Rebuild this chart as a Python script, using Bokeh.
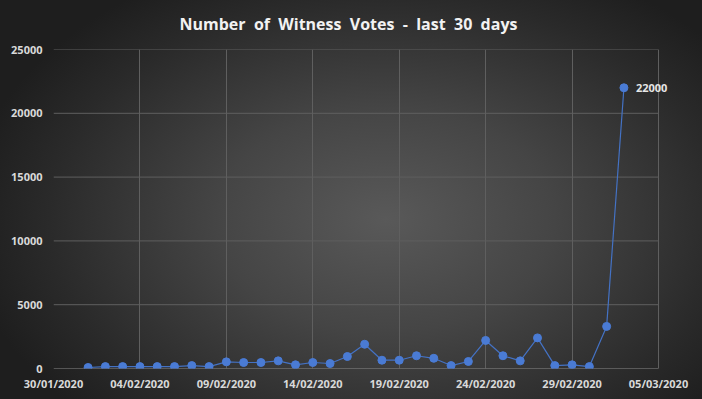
from datetime import datetime, timedelta
from bokeh.plotting import figure
from bokeh.models import (ColumnDataSource, Range1d, FixedTicker, DatetimeTickFormatter,
                          GlobalInlineStyleSheet, Label)
from bokeh.embed import file_html
from bokeh.resources import INLINE

dates = ["2020-02-01", "2020-02-02", "2020-02-03", "2020-02-04", "2020-02-05", "2020-02-06",
         "2020-02-07", "2020-02-08", "2020-02-09", "2020-02-10", "2020-02-11", "2020-02-12",
         "2020-02-13", "2020-02-14", "2020-02-15", "2020-02-16", "2020-02-17", "2020-02-18",
         "2020-02-19", "2020-02-20", "2020-02-21", "2020-02-22", "2020-02-23", "2020-02-24",
         "2020-02-25", "2020-02-26", "2020-02-27", "2020-02-28", "2020-02-29", "2020-03-01",
         "2020-03-02", "2020-03-03"]
votes = [80, 150, 150, 150, 150, 150, 230, 150, 520, 470, 470, 600, 290, 470, 390, 940,
         1900, 650, 650, 1000, 800, 230, 550, 2200, 1000, 600, 2400, 230, 290, 150, 3300, 22000]
tick_dates = ["2020-01-30", "2020-02-04", "2020-02-09", "2020-02-14", "2020-02-19",
              "2020-02-24", "2020-02-29", "2020-03-05"]
y_ticks = [0, 5000, 10000, 15000, 20000, 25000]
labelled_index = 31

def to_dt(s):
    return datetime.strptime(s, "%Y-%m-%d")

xs = [to_dt(d) for d in dates]
src = ColumnDataSource(dict(x=xs, y=votes))

W, H = 702, 399
left, right_axis_px, top, bottom = 53, 658, 48, 31
frame_right_border = 8
x0 = to_dt(tick_dates[0])
x1 = to_dt(tick_dates[-1])
# extend the frame past the last tick so the data label is not clipped
span_days = (x1 - x0).days
px_per_day = (right_axis_px - left) / span_days
frame_w = W - frame_right_border - left
x_end = x0 + timedelta(days=frame_w / px_per_day)

p = figure(width=W, height=H, x_axis_type="datetime", output_backend="svg",
           toolbar_location=None,
           x_range=Range1d(x0, x_end),
           y_range=Range1d(y_ticks[0], y_ticks[-1]),
           min_border_left=left, min_border_right=frame_right_border,
           min_border_top=top, min_border_bottom=bottom)

css = GlobalInlineStyleSheet(css="""
html, body { height: 100%; margin: 0; padding: 0; overflow: hidden; }
body { background: radial-gradient(ellipse 60% 70% at 55% 55%, #595959 0%, #454545 40%, #2a2a2a 80%, #1e1e1e 100%) fixed; }
""")
p.stylesheets = [css]

p.background_fill_alpha = 0
p.border_fill_alpha = 0
p.outline_line_color = None

nb = "\u00a0 "
p.title.text = nb.join(["Number", "of", "Witness", "Votes", "-", "last", "30", "days"])
p.title.align = "left"
p.title.offset = 126
p.title.vertical_align = "top"
p.title.text_color = "#f2f2f2"
p.title.text_font = "Open Sans"
p.title.text_font_size = "16px"
p.title.text_font_style = "bold"
p.title.standoff = 25

grid_color = "#5f5f5f"
tick_ms = [to_dt(t).timestamp() * 1000 for t in tick_dates]
p.xgrid.grid_line_color = grid_color
p.xgrid.ticker = FixedTicker(ticks=tick_ms)
p.ygrid.grid_line_color = None

# horizontal grid lines limited to the date span
n = len(y_ticks)
p.segment(x0=[x0] * (n - 1), x1=[x1] * (n - 1), y0=y_ticks[1:], y1=y_ticks[1:],
          line_color=grid_color, line_width=1)
p.segment(x0=[x0], x1=[x1], y0=[y_ticks[0]], y1=[y_ticks[0]],
          line_color="#8a8a8a", line_width=1)

p.xaxis.ticker = FixedTicker(ticks=tick_ms)
p.xaxis.formatter = DatetimeTickFormatter(days="%d/%m/%Y", months="%d/%m/%Y", years="%d/%m/%Y")
p.yaxis.ticker = FixedTicker(ticks=y_ticks)

for ax in (p.xaxis, p.yaxis):
    ax.major_label_text_color = "#d9d9d9"
    ax.major_label_text_font = "Open Sans"
    ax.major_label_text_font_size = "11px"
    ax.major_label_text_font_style = "bold"
    ax.major_tick_line_color = None
    ax.minor_tick_line_color = None
    ax.major_tick_out = 0
    ax.major_tick_in = 0
    ax.axis_line_color = None
p.xaxis.major_label_standoff = 7
p.yaxis.major_label_standoff = 11

blue = "#4472c4"
p.line("x", "y", source=src, line_color=blue, line_width=1.2)
p.scatter("x", "y", source=src, size=8, fill_color="#4a7bd4", line_color="#4a7bd4")

lab = Label(x=xs[labelled_index], y=votes[labelled_index], text=str(votes[labelled_index]),
            x_offset=12, y_offset=0, text_baseline="middle", text_color="#e6e6e6",
            text_font="Open Sans", text_font_size="11px", text_font_style="bold")
p.add_layout(lab)

open("out.html", "w").write(file_html(p, INLINE))
